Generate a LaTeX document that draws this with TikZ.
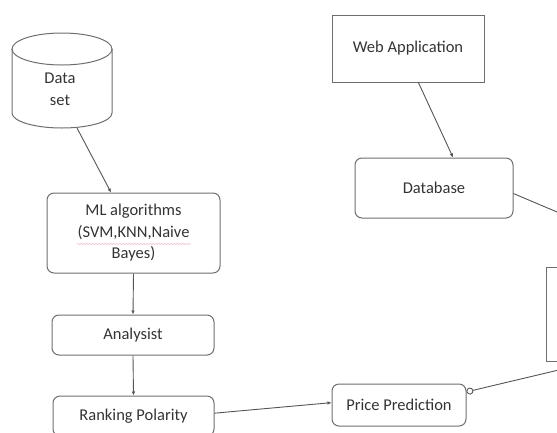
\documentclass[tikz,border=0pt]{standalone}
\usepackage{fontspec}
\setmainfont{Carlito}
\usetikzlibrary{arrows.meta,decorations.pathmorphing}
\definecolor{boxgray}{HTML}{6E6E6E}
\definecolor{linegray}{HTML}{555555}
\definecolor{txtgray}{HTML}{333333}
\definecolor{squig}{HTML}{F0C0CC}
\begin{document}
\begin{tikzpicture}[x=1pt,y=1pt,
  lbl/.style={text=txtgray,font=\fontsize{16.5}{21.5}\selectfont,align=center,inner sep=0pt},
  rbox/.style={lbl,draw=boxgray,line width=1pt,rounded corners=7pt},
  sbox/.style={lbl,draw=boxgray,line width=1pt},
  conn/.style={draw=linegray,line width=0.9pt},
  arr/.style={conn,-{Latex[length=4pt,width=3.5pt]}},
  oarr/.style={conn,{Circle[open,length=7pt,width=7pt,line width=0.9pt]}-}]
\useasboundingbox (0,0) rectangle (557,-432);
\clip (0,0) rectangle (557,-432);
% cylinder "Data set"
\draw[draw=boxgray,line width=1pt] (62,-49) ellipse [x radius=50,y radius=16];
\draw[draw=boxgray,line width=1pt] (12,-49) -- (12,-113)
  arc[start angle=180,end angle=360,x radius=50,y radius=15] -- (112,-49);
\node[lbl] (ds) at (60,-89.5) {Data\\set};
\coordinate (dsb) at (77,-128);
% left column
\node[rbox,minimum width=173pt,minimum height=80pt] (ml) at (133.5,-233)
  {ML algorithms\\(SVM,KNN,Naive\\Bayes)};
\node[rbox,minimum width=162pt,minimum height=40pt] (an) at (133,-335) {Analysist};
\node[rbox,minimum width=161pt,minimum height=40pt] (rp) at (133.5,-416) {Ranking Polarity};
% right part
\node[sbox,minimum width=152pt,minimum height=67pt] (wa) at (408,-48.5) {Web Application};
\node[rbox,minimum width=158pt,minimum height=60pt] (db) at (434,-188) {Database};
\node[rbox,minimum width=134pt,minimum height=42pt] (pp) at (399,-405) {Price Prediction};
\node[sbox,minimum width=174pt,minimum height=94pt] (rb) at (633,-314) {};
% spell-check squiggle
\draw[squig,line width=0.6pt,decorate,decoration={snake,amplitude=0.6pt,segment length=3pt}]
  (77,-244) -- (191,-244);
% connectors
\draw[arr] (dsb) -- (ml.119.4);
\draw[arr] (ml.south) -- (an.north);
\draw[arr] (an.south) -- (rp.north);
\draw[arr] (rp.2) -- (pp.178);
\draw[arr] (wa.-73) -- (db.58);
\draw[conn] (db.-4) -- (rb.42);
\draw[oarr] (pp.11) -- (rb.-129);
\end{tikzpicture}
\end{document}
